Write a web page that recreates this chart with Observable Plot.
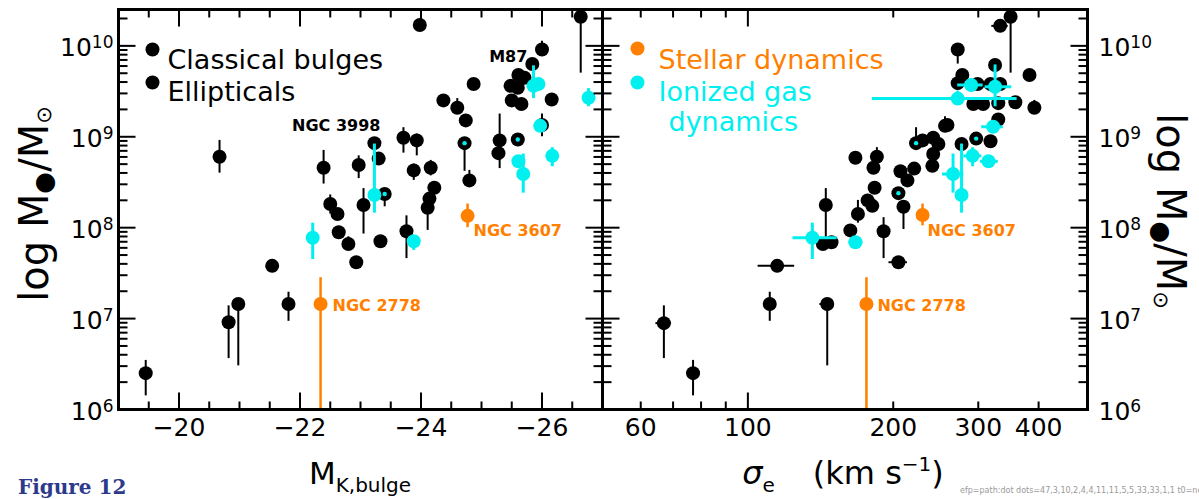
<!DOCTYPE html>
<html><head><meta charset="utf-8">
<script src="https://cdn.jsdelivr.net/npm/d3@7"></script>
<script src="https://cdn.jsdelivr.net/npm/@observablehq/plot@0.6"></script>
<style>
html,body{margin:0;padding:0;background:#fff;}
#wrap{position:relative;width:1199px;height:499px;overflow:hidden;font-family:"DejaVu Sans",sans-serif;}
#wrap > svg{position:absolute;top:0;}
#dbg{position:absolute;left:960px;top:486px;font-size:8px;color:#999;white-space:nowrap;}
</style></head><body><div id="wrap"><div id="dbg"></div></div>
<script>
// ---------------- Left panel: M_K,bulge ----------------
const lbMK   = [-19.45,-20.82,-20.98,-21.54,-21.81,-20.67,-22.39,-22.97,-23.23,-23.30,-23.71,-23.93,-23.88,-24.16,-24.22,-24.14,-24.11,-23.40,-22.50,-22.62,-23.05,-22.64,-22.80,-22.93,-23.33,-23.76,-23.98,-26.64,-26.00,-25.84,-25.61,-25.71,-25.48,-25.60,-25.50,-25.66,-26.16,-24.87,-24.37,-24.60,-24.74,-24.72,-24.80,-25.30,-25.28,-25.60,-26.00];
const lbLogM = [6.40,6.96,7.16,7.58,7.16,8.78,8.66,8.69,8.93,8.76,8.99,8.96,8.63,8.66,8.44,8.32,8.22,8.37,8.26,8.15,8.25,7.95,7.82,7.62,7.85,7.96,10.23,10.32,9.96,9.80,9.68,9.65,9.56,9.54,9.40,9.36,9.41,9.58,9.40,9.32,9.18,8.93,8.52,8.96,8.82,8.97,9.13];
const lbLo   = [6.15,6.56,6.48,null,6.97,8.60,8.48,8.54,null,null,8.82,8.79,8.52,8.57,null,null,7.97,8.23,8.15,null,7.93,null,7.75,null,null,7.66,null,9.70,9.90,null,null,null,null,null,null,null,null,null,null,9.32,null,8.62,8.52,8.65,null,null,9.00];
const lbHi   = [6.54,7.14,7.20,null,7.29,8.96,8.85,8.79,null,null,9.10,9.03,8.70,8.74,null,null,8.30,8.40,8.36,null,8.43,null,7.90,null,null,8.13,null,10.36,10.05,null,null,null,null,null,null,null,null,null,null,9.42,null,8.95,8.63,9.25,null,null,9.25];
const lcMK   = [-22.21,-23.23,-23.88,-25.86,-25.94,-25.97,-25.61,-25.69,-26.17,-26.77];
const lcLogM = [7.89,8.36,7.85,9.56,9.58,9.12,8.73,8.59,8.79,9.43];
const lcLo   = [7.65,8.16,7.75,9.42,null,null,null,8.38,8.67,9.33];
const lcHi   = [8.05,8.92,7.88,9.78,null,null,null,8.81,8.88,9.53];
const lcCenterMK = [-23.40,-24.72,-25.60];
const lcCenterLogM = [8.37,8.93,8.97];
const loMK   = [-22.34,-24.77];
const loLogM = [7.16,8.13];
const loLo   = [6.0,8.00];
const loHi   = [7.45,8.26];
const orangeNames = ["NGC 2778","NGC 3607"];

// ---------------- Right panel: sigma_e ----------------
const rbSig  = [67,77,111,115,146,205,145,143,149,163,169,177,181,183,167,185,182,191,205,210,207,214,221,223,230,242,248,242,241,256,350,333,272,325,278,272,299,318,333,293,307,330,358,383,392,330,259,277,297,318];
const rbLogM = [6.95,6.40,7.16,7.58,7.16,7.62,8.25,7.82,7.84,7.97,8.15,8.30,8.24,8.44,8.77,8.78,8.66,7.96,8.38,8.23,8.62,8.52,8.65,8.93,8.96,8.99,8.92,8.81,8.68,9.12,10.32,10.22,9.96,9.79,9.68,9.59,9.58,9.58,9.58,9.36,9.36,9.37,9.38,9.68,9.32,9.19,9.13,8.92,8.98,8.95];
const rbLo   = [6.56,6.15,6.97,null,6.48,null,7.82,null,null,null,8.05,null,null,null,null,8.66,null,7.66,null,7.98,null,null,null,8.85,null,null,null,null,null,9.12,9.70,null,9.80,null,null,null,null,null,null,null,null,null,null,null,9.32,null,null,null,null,null];
const rbHi   = [7.14,6.54,7.29,null,7.20,null,8.43,null,null,null,8.30,null,null,null,null,8.88,null,8.11,null,8.25,null,null,null,9.10,null,null,null,null,null,9.22,10.36,null,10.02,null,null,null,null,null,null,null,null,null,null,null,9.40,null,null,null,null,null];
const rbxSig  = [67,115,146,205,333];
const rbxLogM = [6.95,7.58,7.16,7.62,10.22];
const rbxLo   = [64.5,105,141,196,320];
const rbxHi   = [69.5,125,151,214,346];
const rcSig  = [136,167,290,325,272,322,292,315,266,277];
const rcLogM = [7.89,7.84,9.57,9.55,9.42,9.11,8.79,8.73,8.59,8.36];
const rcLo   = [7.65,null,null,9.33,9.35,null,8.67,null,8.38,8.16];
const rcHi   = [8.05,null,null,9.79,9.50,null,8.88,null,8.81,8.92];
const rcSLo  = [124,162,272,310,181,305,280,303,253,null];
const rcSHi  = [153,173,307,352,361,338,305,330,280,null];
const rcCenterSig = [205,223,297];
const rcCenterLogM = [8.38,8.93,8.98];
const roSig  = [176,230];
const roLogM = [7.16,8.14];
const roLo   = [6.0,8.02];
const roHi   = [7.45,8.26];

// ---------------- axis ticks & labels ----------------
const yMajor = [1e6,1e7,1e8,1e9,1e10];
const yMinor = [];
for (let e = 6; e <= 10; e++) for (let k = 2; k <= 9; k++) { const v = k * 10 ** e; if (v < 10 ** 10.4) yMinor.push(v); }
const lxMajor = [-20,-22,-24,-26];
const lxMinor = [-19.5,-20.5,-21,-21.5,-22.5,-23,-23.5,-24.5,-25,-25.5,-26.5];
const rxMajor = [100];
const rxMinor = [60,70,80,90,200,300,400];
const rxLabels = [60,100,200,300,400];
const legendLeft = ["Classical bulges","Ellipticals"];
const legendRight = ["Stellar dynamics","Ionized gas","dynamics"];

const BLACK = "#000", ORANGE = "#ff7f00", CYAN = "#00f0f0";
const R = 7;
const FONT = "DejaVu Sans";

const rows = (xs, ys, elo, ehi, slo, shi) => xs.map((x, i) => ({
  x, y: 10 ** ys[i],
  lo: elo && elo[i] != null ? 10 ** elo[i] : null,
  hi: ehi && ehi[i] != null ? 10 ** ehi[i] : null,
  slo: slo && slo[i] != null ? slo[i] : null,
  shi: shi && shi[i] != null ? shi[i] : null
}));

const lbRows = rows(lbMK, lbLogM, lbLo, lbHi);
const lcRows = rows(lcMK, lcLogM, lcLo, lcHi);
const loRows = rows(loMK, loLogM, loLo, loHi);
const lccRows = rows(lcCenterMK, lcCenterLogM);
const rbRows = rows(rbSig, rbLogM, rbLo, rbHi);
const rbxRows = rows(rbxSig, rbxLogM, null, null, rbxLo, rbxHi);
const rcRows = rows(rcSig, rcLogM, rcLo, rcHi, rcSLo, rcSHi);
const roRows = rows(roSig, roLogM, roLo, roHi);
const rccRows = rows(rcCenterSig, rcCenterLogM);

const yErr = (data, color, w) => Plot.ruleX(data.filter(d => d.lo != null), {x: "x", y1: "lo", y2: "hi", stroke: color, strokeWidth: w});
const xErr = (data, color, w) => Plot.ruleY(data.filter(d => d.slo != null), {y: "y", x1: "slo", x2: "shi", stroke: color, strokeWidth: w});
const dots = (data, color, r = R) => Plot.dot(data, {x: "x", y: "y", r, fill: color});

const H = 499, MT = 9, MB = 90;
const yDom = [1e6, 10 ** 10.4];
const style = {background: "transparent", overflow: "visible", fontFamily: FONT};

// tick glyphs: a short stroke of fixed pixel length, pointing into the frame
const tickSym = (dx, dy) => ({draw(ctx) { ctx.moveTo(0, 0); ctx.lineTo(dx, dy); }});
// inward ticks on all four sides, drawn as dots with a line-shaped symbol anchored on the frame edges
function frameTicks(xMaj, xMin) {
  const s = {fill: "none", stroke: BLACK, strokeWidth: 2, r: 4};
  return [
    Plot.dot(xMaj, {x: d => d, frameAnchor: "bottom", symbol: tickSym(0, -17), ...s}),
    Plot.dot(xMaj, {x: d => d, frameAnchor: "top", symbol: tickSym(0, 17), ...s}),
    Plot.dot(xMin, {x: d => d, frameAnchor: "bottom", symbol: tickSym(0, -8), ...s}),
    Plot.dot(xMin, {x: d => d, frameAnchor: "top", symbol: tickSym(0, 8), ...s}),
    Plot.dot(yMajor, {y: d => d, frameAnchor: "left", symbol: tickSym(17, 0), ...s}),
    Plot.dot(yMajor, {y: d => d, frameAnchor: "right", symbol: tickSym(-17, 0), ...s}),
    Plot.dot(yMinor, {y: d => d, frameAnchor: "left", symbol: tickSym(9, 0), ...s}),
    Plot.dot(yMinor, {y: d => d, frameAnchor: "right", symbol: tickSym(-9, 0), ...s}),
    Plot.frame({stroke: BLACK, strokeWidth: 3})
  ];
}

// ---------------- left plot ----------------
const lxDom = [-19, -27];
const p1 = Plot.plot({
  width: 605, marginLeft: 118, marginRight: 3, height: H, marginTop: MT, marginBottom: MB, style,
  x: {type: "linear", domain: lxDom, axis: null},
  y: {type: "log", domain: yDom, axis: null},
  marks: [
    yErr(lbRows, BLACK, 2), dots(lbRows, BLACK), dots(lccRows, CYAN, 2.2),
    yErr(lcRows, CYAN, 3), dots(lcRows, CYAN),
    yErr(loRows, ORANGE, 2.5), dots(loRows, ORANGE),
    ...frameTicks(lxMajor, lxMinor),
    Plot.text(lxMajor, {x: d => d, frameAnchor: "bottom", dy: 26, text: d => "\u2212" + (-d), fontSize: 25}),
    Plot.text(yMajor, {y: d => d, frameAnchor: "left", textAnchor: "end", dx: -5, dy: 2, text: d => String(Math.round(Math.log10(d))), fontSize: 25, ariaLabel: () => "ylab"}),
    Plot.text([loRows[0]], {x: "x", y: "y", text: () => orangeNames[0], dx: 12, dy: 2, textAnchor: "start", fill: ORANGE, fontWeight: "bold", fontSize: 16}),
    Plot.text([loRows[1]], {x: "x", y: "y", text: () => orangeNames[1], dx: 6, dy: 15, textAnchor: "start", fill: ORANGE, fontWeight: "bold", fontSize: 16}),
    Plot.text([lbRows[8]], {x: "x", y: "y", text: () => "NGC 3998", dx: 6, dy: -17, textAnchor: "end", fill: BLACK, fontWeight: "bold", fontSize: 16}),
    Plot.text([lbRows[29]], {x: "x", y: "y", text: () => "M87", dx: -5, dy: -7, textAnchor: "end", fill: BLACK, fontWeight: "bold", fontSize: 16}),
    Plot.dot([0], {frameAnchor: "top-left", dx: 34, dy: 40, r: R, fill: BLACK}),
    Plot.dot([0], {frameAnchor: "top-left", dx: 34, dy: 73, r: R, fill: BLACK}),
    Plot.text([legendLeft[0]], {frameAnchor: "top-left", dx: 49, dy: 40, text: d => d, textAnchor: "start", fontSize: 27, fill: BLACK}),
    Plot.text([legendLeft[1]], {frameAnchor: "top-left", dx: 49, dy: 72.5, text: d => d, textAnchor: "start", fontSize: 27, fill: BLACK})
  ]
});

// ---------------- right plot ----------------
const rxDom = [50, 505];
const p2 = Plot.plot({
  width: 599, marginLeft: 2, marginRight: 112, height: H, marginTop: MT, marginBottom: MB, style,
  x: {type: "log", domain: rxDom, axis: null},
  y: {type: "log", domain: yDom, axis: null},
  marks: [
    yErr(rbRows, BLACK, 2), xErr(rbxRows, BLACK, 2), dots(rbRows, BLACK), dots(rccRows, CYAN, 2.2),
    yErr(rcRows, CYAN, 3), xErr(rcRows, CYAN, 3), dots(rcRows, CYAN),
    yErr(roRows, ORANGE, 2.5), dots(roRows, ORANGE),
    ...frameTicks(rxMajor, rxMinor),
    Plot.text(rxLabels, {x: d => d, frameAnchor: "bottom", dy: 26, text: d => String(d), fontSize: 25}),
    Plot.text(yMajor, {y: d => d, frameAnchor: "right", textAnchor: "start", dx: 11, dy: 2, text: d => String(Math.round(Math.log10(d))), fontSize: 25, ariaLabel: () => "ylab"}),
    Plot.text([roRows[0]], {x: "x", y: "y", text: () => orangeNames[0], dx: 11, dy: 2, textAnchor: "start", fill: ORANGE, fontWeight: "bold", fontSize: 16}),
    Plot.text([roRows[1]], {x: "x", y: "y", text: () => orangeNames[1], dx: 5, dy: 16, textAnchor: "start", fill: ORANGE, fontWeight: "bold", fontSize: 16}),
    Plot.dot([0], {frameAnchor: "top-left", dx: 35, dy: 39, r: R, fill: ORANGE}),
    Plot.dot([0], {frameAnchor: "top-left", dx: 35, dy: 73, r: R, fill: CYAN}),
    Plot.text([legendRight[0]], {frameAnchor: "top-left", dx: 56, dy: 40, text: d => d, textAnchor: "start", fontSize: 27, fill: ORANGE}),
    Plot.text([legendRight[1]], {frameAnchor: "top-left", dx: 56, dy: 72.5, text: d => d, textAnchor: "start", fontSize: 27, fill: CYAN}),
    Plot.text([legendRight[2]], {frameAnchor: "top-left", dx: 66, dy: 102, text: d => d, textAnchor: "start", fontSize: 27, fill: CYAN})
  ]
});

// turn the exponent-only y labels into "10" + superscript exponent
function superscriptLabels(svg) {
  const texts = [];
  d3.select(svg).selectAll('[aria-label="ylab"]').each(function () {
    if (this.tagName.toLowerCase() === "text") texts.push(this);
    else d3.select(this).selectAll("text").each(function () { texts.push(this); });
  });
  texts.forEach(node => {
    const t = d3.select(node);
    const e = t.text();
    t.text("");
    t.append("tspan").text("10");
    t.append("tspan").attr("font-size", 17).attr("dy", -8).text(e);
  });
}
superscriptLabels(p1);
superscriptLabels(p2);

// ---------------- axis titles ----------------
function yTitle(g) {
  g.append("tspan").text("log\u00a0M");
  g.append("tspan").attr("font-size", 25).attr("dy", 4).text("\u25CF");
  g.append("tspan").attr("dy", -4).text("/M");
  g.append("tspan").attr("font-size", 21).attr("dy", 3).text("\u2299");
}
const s1 = d3.select(p1), s2 = d3.select(p2);
yTitle(s1.append("text").attr("transform", "translate(48,204) rotate(-90)")
  .attr("text-anchor", "middle").attr("font-size", 40).attr("font-family", FONT));
yTitle(s2.append("text").attr("transform", "translate(557,211) rotate(90)")
  .attr("text-anchor", "middle").attr("font-size", 40).attr("font-family", FONT));

const xl = s1.append("text").attr("x", 360).attr("y", 484).attr("text-anchor", "middle").attr("font-size", 31).attr("font-family", FONT);
xl.append("tspan").text("M");
xl.append("tspan").attr("font-size", 20).attr("dy", 8).text("K,bulge");

const xr = s2.append("text").attr("x", 243).attr("y", 484).attr("text-anchor", "middle").attr("font-size", 32).attr("font-family", FONT);
xr.append("tspan").attr("font-style", "italic").text("\u03C3");
xr.append("tspan").attr("font-size", 20).attr("dy", 8).text("e");
xr.append("tspan").attr("dy", -8).attr("dx", 38).text("(km\u00a0s");
xr.append("tspan").attr("font-size", 20).attr("dy", -13).text("\u22121");
xr.append("tspan").attr("dy", 13).text(")");

s1.append("text").attr("x", 18).attr("y", 494).attr("text-anchor", "start")
  .attr("font-family", "DejaVu Serif").attr("font-weight", "bold").attr("font-size", 20)
  .attr("fill", "#2d3a8c").text("Figure 12");

const wrap = document.getElementById("wrap");
p1.style.left = "0px";
p2.style.left = "600px";
wrap.appendChild(p1);
wrap.appendChild(p2);

// tiny diagnostic of the tick layer (what sits on top at a bottom tick position)
try {
  const el = document.elementFromPoint(178, 400);
  const g = p1.querySelectorAll('g[aria-label="dot"]');
  const info = [];
  g.forEach(n => info.push(n.children.length));
  const firstTick = g.length > 3 ? g[3].querySelector("path") : null;
  document.getElementById("dbg").textContent = "efp=" + (el ? el.tagName + ":" + (el.parentNode && el.parentNode.getAttribute ? el.parentNode.getAttribute("aria-label") : "") : "none") +
    " dots=" + info.join(",") + " t0=" + (firstTick ? (firstTick.getAttribute("transform") + " " + firstTick.getAttribute("d")) : "none");
} catch (e) { document.getElementById("dbg").textContent = "err " + e.message; }
</script></body></html>
